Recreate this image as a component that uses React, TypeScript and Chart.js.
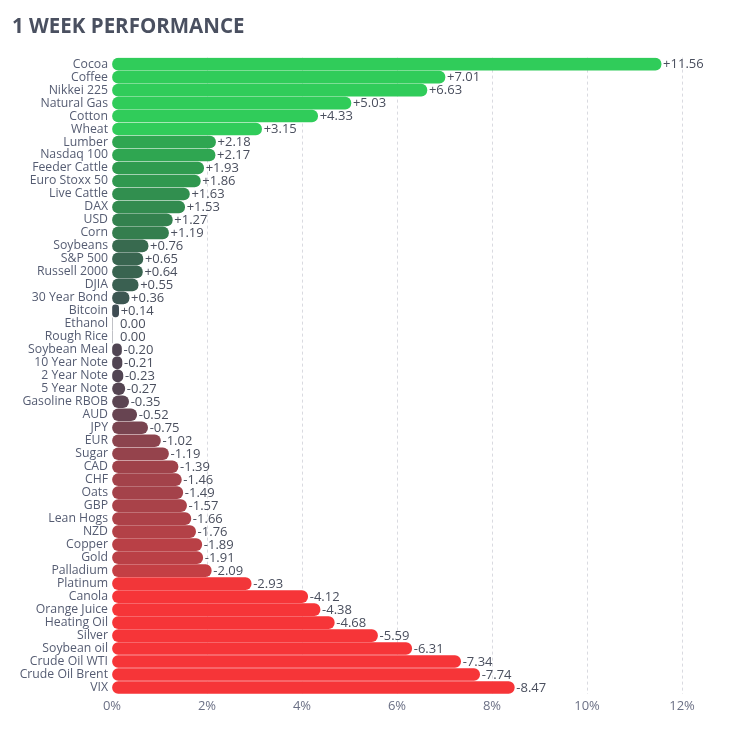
import React, { useEffect, useRef } from "react";
import { Chart, registerables } from "chart.js";

Chart.register(...registerables);

const categories = [
  "Cocoa", "Coffee", "Nikkei 225", "Natural Gas", "Cotton", "Wheat", "Lumber", "Nasdaq 100",
  "Feeder Cattle", "Euro Stoxx 50", "Live Cattle", "DAX", "USD", "Corn", "Soybeans", "S&P 500",
  "Russell 2000", "DJIA", "30 Year Bond", "Bitcoin", "Ethanol", "Rough Rice", "Soybean Meal",
  "10 Year Note", "2 Year Note", "5 Year Note", "Gasoline RBOB", "AUD", "JPY", "EUR", "Sugar",
  "CAD", "CHF", "Oats", "GBP", "Lean Hogs", "NZD", "Copper", "Gold", "Palladium", "Platinum",
  "Canola", "Orange Juice", "Heating Oil", "Silver", "Soybean oil", "Crude Oil WTI",
  "Crude Oil Brent", "VIX",
];

const changes = [
  11.56, 7.01, 6.63, 5.03, 4.33, 3.15, 2.18, 2.17, 1.93, 1.86, 1.63, 1.53, 1.27, 1.19, 0.76,
  0.65, 0.64, 0.55, 0.36, 0.14, 0.0, 0.0, -0.2, -0.21, -0.23, -0.27, -0.35, -0.52, -0.75, -1.02,
  -1.19, -1.39, -1.46, -1.49, -1.57, -1.66, -1.76, -1.89, -1.91, -2.09, -2.93, -4.12, -4.38,
  -4.68, -5.59, -6.31, -7.34, -7.74, -8.47,
];

const xTicks = [0, 2, 4, 6, 8, 10, 12];

// colour stops for -3 .. +3
const colorStops = ["#f63538", "#bf4045", "#8b444e", "#414554", "#35764e", "#2f9e4f", "#30cc5a"];

function hexToRgb(h: string) {
  const n = parseInt(h.slice(1), 16);
  return [(n >> 16) & 255, (n >> 8) & 255, n & 255];
}

function colorFor(v: number) {
  const c = Math.max(-3, Math.min(3, v)) + 3;
  const i = Math.min(5, Math.floor(c));
  const t = c - i;
  const a = hexToRgb(colorStops[i]);
  const b = hexToRgb(colorStops[i + 1]);
  const m = a.map((x, k) => Math.round(x + (b[k] - x) * t));
  return `rgb(${m[0]},${m[1]},${m[2]})`;
}

const FONT = "'Open Sans', 'Noto Sans', sans-serif";

const valueLabels = {
  id: "valueLabels",
  afterDatasetsDraw(chart: any) {
    const ctx = chart.ctx;
    const meta = chart.getDatasetMeta(0);
    ctx.save();
    ctx.font = `13px ${FONT}`;
    ctx.fillStyle = "#4a4f5e";
    ctx.textBaseline = "middle";
    ctx.textAlign = "left";
    meta.data.forEach((bar: any, i: number) => {
      const v = changes[i];
      const txt = (v > 0 ? "+" : "") + v.toFixed(2);
      const x = v === 0 ? chart.scales.x.getPixelForValue(0) + 8 : bar.x + 2;
      ctx.fillText(txt, x, bar.y + 0.5);
    });
    ctx.restore();
  },
};

export default function App() {
  const ref = useRef<HTMLCanvasElement>(null);
  useEffect(() => {
    if (!ref.current) return;
    const chart = new Chart(ref.current, {
      type: "bar",
      data: {
        labels: categories,
        datasets: [
          {
            data: changes.map((v) => Math.abs(v)),
            backgroundColor: changes.map(colorFor),
            borderRadius: 6,
            borderSkipped: false,
            barThickness: 12,
          },
        ],
      },
      options: {
        indexAxis: "y",
        responsive: false,
        animation: false,
        layout: { padding: { left: 12, right: 51, bottom: 14, top: 0 } },
        plugins: {
          legend: { display: false },
          tooltip: { enabled: false },
          title: {
            display: true,
            text: "1 WEEK PERFORMANCE",
            align: "start",
            color: "#4a5060",
            font: { family: FONT, size: 20.5, weight: "bold" },
            padding: { top: 15, bottom: 18 },
          },
        },
        scales: {
          x: {
            min: 0,
            max: 12,
            afterBuildTicks: (s: any) => {
              s.ticks = xTicks.map((v) => ({ value: v }));
            },
            afterFit: (s: any) => {
              s.height = 22;
            },
            border: { display: false, dash: [3, 3] },
            grid: {
              drawTicks: false,
              color: (c: any) => (c.tick && c.tick.value === 0 ? "rgba(0,0,0,0)" : "#d9dae0"),
              lineWidth: 1,
            },
            ticks: {
              padding: 4,
              color: "#6b7085",
              font: { family: FONT, size: 13 },
              callback: (v: any) => v + "%",
            },
          } as any,
          y: {
            afterFit: (s: any) => {
              s.width = 100;
            },
            border: { display: false },
            grid: { display: false, drawTicks: false },
            ticks: {
              padding: 4,
              autoSkip: false,
              color: "#555c72",
              font: { family: FONT, size: 12.25 },
            },
          },
        },
      },
      plugins: [valueLabels],
    } as any);
    return () => chart.destroy();
  }, []);
  return (
    <div style={{ position: "absolute", left: 0, top: 0, width: 733, height: 730, background: "#fff" }}>
      <canvas ref={ref} width={733} height={730} />
    </div>
  );
}
